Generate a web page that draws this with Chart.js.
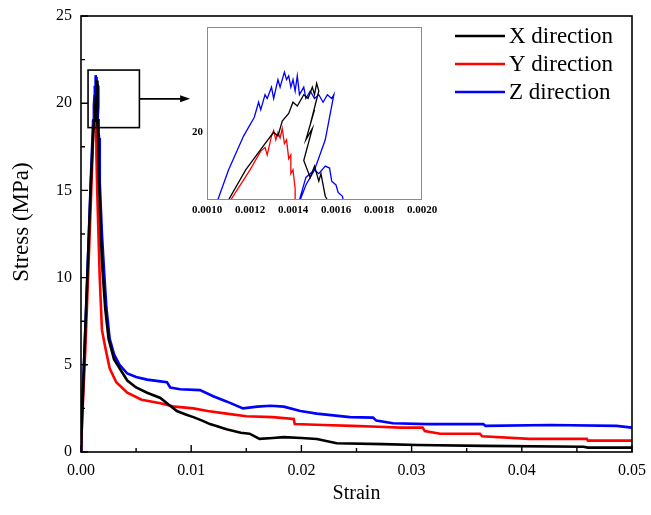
<!DOCTYPE html>
<html>
<head>
<meta charset="utf-8">
<script src="https://cdn.jsdelivr.net/npm/chart.js@4.4.1/dist/chart.umd.min.js"></script>
<style>
  html, body { margin: 0; padding: 0; background: #fff; }
  #wrap { position: relative; width: 651px; height: 515px; }
  #main { position: absolute; left: 0; top: 0; }
  #inset { position: absolute; left: 180px; top: 20px; }
</style>
</head>
<body>
<div id="wrap">
  <canvas id="main" width="651" height="515"></canvas>
  <canvas id="inset" width="262" height="205"></canvas>
</div>
<script>
// ---------------- Data ----------------
const seriesLabels = ['X direction', 'Y direction', 'Z direction'];
const seriesColors = ['#000000', '#ff0000', '#0000ff'];

const xStrain = [0, 0.0001, 0.0003, 0.0006, 0.0009, 0.0011, 0.00118, 0.00127, 0.00131, 0.00133, 0.00135, 0.00138, 0.0014, 0.00142, 0.00145, 0.00147, 0.00149, 0.0015, 0.00151, 0.00152, 0.00148, 0.0015, 0.00146, 0.00149, 0.00145, 0.00148, 0.0015, 0.00152, 0.00153, 0.00155, 0.00157, 0.0016, 0.0017, 0.0018, 0.0019, 0.002, 0.0022, 0.0025, 0.003, 0.0035, 0.0042, 0.005, 0.006, 0.0072, 0.008, 0.0087, 0.0095, 0.0102, 0.011, 0.0117, 0.0125, 0.0132, 0.0145, 0.0153, 0.0162, 0.0174, 0.0184, 0.02, 0.0214, 0.0232, 0.0274, 0.0305, 0.0365, 0.0456, 0.046, 0.05];
const xStress = [0, 2.0, 5.5, 10.5, 15.5, 18.2, 19.0, 19.7, 20.0, 19.9, 20.3, 20.5, 20.8, 20.7, 21.0, 20.9, 21.2, 21.0, 21.3, 21.1, 20.2, 20.6, 19.8, 20.1, 19.25, 18.8, 19.1, 18.7, 18.9, 18.3, 18.1, 16.5, 14.5, 12.5, 11.0, 10.0, 8.2, 6.5, 5.3, 4.8, 4.1, 3.7, 3.4, 3.1, 2.7, 2.35, 2.15, 2.0, 1.8, 1.6, 1.45, 1.3, 1.1, 1.05, 0.75, 0.8, 0.85, 0.8, 0.75, 0.5, 0.45, 0.4, 0.35, 0.3, 0.25, 0.25];

const yStrain = [0, 0.0001, 0.0004, 0.0007, 0.001, 0.00111, 0.0012, 0.00125, 0.00127, 0.00128, 0.0013, 0.00131, 0.00132, 0.00133, 0.00134, 0.00135, 0.00136, 0.00137, 0.00138, 0.00139, 0.00139, 0.0014, 0.00141, 0.00141, 0.00143, 0.00147, 0.0017, 0.0019, 0.0022, 0.0026, 0.0032, 0.0042, 0.0055, 0.0072, 0.0085, 0.0102, 0.0115, 0.0132, 0.015, 0.0174, 0.0193, 0.0194, 0.022, 0.0246, 0.027, 0.029, 0.031, 0.0312, 0.0326, 0.0362, 0.0364, 0.0407, 0.0459, 0.046, 0.05];
const yStress = [0, 1.8, 6.0, 11.0, 16.2, 18.2, 19.0, 19.5, 19.6, 19.4, 19.9, 20.05, 19.8, 20.0, 19.85, 20.1, 19.7, 19.8, 19.3, 19.4, 18.9, 19.0, 18.5, 18.2, 17.0, 15.0, 10.0, 7.0, 6.0, 4.8, 4.0, 3.4, 3.0, 2.8, 2.6, 2.5, 2.35, 2.2, 2.05, 2.0, 1.9, 1.6, 1.55, 1.5, 1.45, 1.4, 1.4, 1.2, 1.05, 1.05, 0.9, 0.75, 0.75, 0.65, 0.65];

const zStrain = [0, 0.00005, 0.0003, 0.0006, 0.0009, 0.00105, 0.0011, 0.00117, 0.00122, 0.00124, 0.00125, 0.00127, 0.00128, 0.0013, 0.00131, 0.00133, 0.00134, 0.00136, 0.00137, 0.00138, 0.00139, 0.0014, 0.00141, 0.00142, 0.00143, 0.00145, 0.00146, 0.00148, 0.0015, 0.00152, 0.00154, 0.00156, 0.00158, 0.00159, 0.00155, 0.0015, 0.00146, 0.00142, 0.00146, 0.0015, 0.00152, 0.00155, 0.00157, 0.00158, 0.0016, 0.00161, 0.00163, 0.00164, 0.0017, 0.0019, 0.0021, 0.0023, 0.0026, 0.003, 0.0035, 0.0042, 0.005, 0.006, 0.0072, 0.0078, 0.0081, 0.009, 0.0108, 0.012, 0.0132, 0.0147, 0.016, 0.0172, 0.0184, 0.0199, 0.0214, 0.0244, 0.0265, 0.0268, 0.0283, 0.0314, 0.0365, 0.0367, 0.0426, 0.0486, 0.05];
const zStress = [0, 2.0, 5.5, 10.5, 15.8, 18.2, 19.0, 19.9, 20.4, 20.8, 20.6, 21.0, 20.9, 21.2, 20.9, 21.4, 21.2, 21.6, 21.4, 21.5, 21.2, 21.4, 21.1, 21.5, 21.0, 21.2, 20.9, 21.1, 20.9, 21.0, 20.8, 21.0, 20.9, 21.0, 19.8, 19.0, 18.6, 18.0, 18.8, 19.0, 18.9, 19.1, 19.05, 18.7, 18.6, 18.4, 18.3, 18.0, 15.5, 12.5, 10.3, 8.3, 6.5, 5.6, 5.0, 4.5, 4.3, 4.15, 4.05, 4.0, 3.7, 3.6, 3.55, 3.2, 2.9, 2.5, 2.6, 2.65, 2.6, 2.35, 2.2, 2.0, 1.97, 1.8, 1.65, 1.6, 1.6, 1.5, 1.55, 1.5, 1.4];

const xTickLabels = ['0.00', '0.01', '0.02', '0.03', '0.04', '0.05'];
const yTickLabels = ['0', '5', '10', '15', '20', '25'];
const insetXTickLabels = ['0.0010', '0.0012', '0.0014', '0.0016', '0.0018', '0.0020'];
const insetYTickLabels = ['20'];
const xTitle = 'Strain';
const yTitle = 'Stress (MPa)';

// zoom box (in data units) and arrow end
const zoomBoxStrain = [0.00064, 0.0053];
const zoomBoxStress = [18.6, 21.9];
const arrowEndStrain = 0.0099;

// ---------------- Helpers ----------------
function pts(xs, ys) { return xs.map((x, i) => ({ x: x, y: ys[i] })); }
const allStrain = [xStrain, yStrain, zStrain];
const allStress = [xStress, yStress, zStress];

function makeDatasets(width) {
  return seriesLabels.map((lab, i) => ({
    label: lab,
    data: pts(allStrain[i], allStress[i]),
    borderColor: seriesColors[i],
    backgroundColor: seriesColors[i],
    borderWidth: width,
    pointRadius: 0,
    tension: 0,
    fill: false
  }));
}

const SERIF = "'Liberation Serif', 'Times New Roman', serif";
function zeroPad(s) { s.paddingLeft = 0; s.paddingRight = 0; s.paddingTop = 0; s.paddingBottom = 0; }

// ---------------- Main chart plugins ----------------
const framePlugin = {
  id: 'frame',
  afterDraw(chart) {
    const { ctx, chartArea: a, scales } = chart;
    ctx.save();
    ctx.strokeStyle = '#000';
    ctx.lineWidth = 1.6;
    ctx.strokeRect(a.left, a.top, a.right - a.left, a.bottom - a.top);
    // inward ticks
    ctx.lineWidth = 1.4;
    const xs = scales.x, ys = scales.y;
    const xv = xs.ticks.map(t => t.value);
    const yv = ys.ticks.map(t => t.value);
    ctx.beginPath();
    xv.forEach((v, i) => {
      const p = xs.getPixelForValue(v);
      ctx.moveTo(p, a.bottom); ctx.lineTo(p, a.bottom - 7);
      if (i < xv.length - 1) {
        const m = xs.getPixelForValue((v + xv[i + 1]) / 2);
        ctx.moveTo(m, a.bottom); ctx.lineTo(m, a.bottom - 4);
      }
    });
    yv.forEach((v, i) => {
      const p = ys.getPixelForValue(v);
      ctx.moveTo(a.left, p); ctx.lineTo(a.left + 7, p);
      if (i < yv.length - 1) {
        const m = ys.getPixelForValue((v + yv[i + 1]) / 2);
        ctx.moveTo(a.left, m); ctx.lineTo(a.left + 4, m);
      }
    });
    ctx.stroke();

    // zoom box + arrow
    const bx0 = xs.getPixelForValue(zoomBoxStrain[0]);
    const bx1 = xs.getPixelForValue(zoomBoxStrain[1]);
    const by0 = ys.getPixelForValue(zoomBoxStress[1]);
    const by1 = ys.getPixelForValue(zoomBoxStress[0]);
    ctx.lineWidth = 1.6;
    ctx.strokeRect(bx0, by0, bx1 - bx0, by1 - by0);
    const ay = (by0 + by1) / 2;
    const ax = xs.getPixelForValue(arrowEndStrain);
    ctx.beginPath();
    ctx.moveTo(bx1, ay); ctx.lineTo(ax - 8, ay);
    ctx.stroke();
    ctx.beginPath();
    ctx.moveTo(ax, ay); ctx.lineTo(ax - 10, ay - 3.5); ctx.lineTo(ax - 10, ay + 3.5); ctx.closePath();
    ctx.fillStyle = '#000';
    ctx.fill();

    // y-axis title
    ctx.save();
    ctx.translate(22, 222);
    ctx.rotate(-Math.PI / 2);
    ctx.font = '23px ' + SERIF;
    ctx.fillStyle = '#000';
    ctx.textAlign = 'center';
    ctx.textBaseline = 'middle';
    ctx.fillText(yTitle, 0, 0);
    ctx.restore();

    // legend
    ctx.font = '23px ' + SERIF;
    ctx.textBaseline = 'middle';
    ctx.textAlign = 'left';
    chart.data.datasets.forEach((ds, i) => {
      const y = 36 + i * 28;
      ctx.strokeStyle = ds.borderColor;
      ctx.lineWidth = 2.5;
      ctx.beginPath(); ctx.moveTo(455, y); ctx.lineTo(505, y); ctx.stroke();
      ctx.fillStyle = '#000';
      ctx.fillText(ds.label, 509, y + 1);
    });
    ctx.restore();
  }
};

new Chart(document.getElementById('main'), {
  type: 'line',
  data: { datasets: makeDatasets(2.6) },
  options: {
    responsive: false,
    animation: false,
    devicePixelRatio: 1,
    layout: { padding: { top: 16, right: 19, left: 0, bottom: 0 } },
    plugins: { legend: { display: false }, tooltip: { enabled: false } },
    scales: {
      x: {
        type: 'linear', min: 0, max: 0.05,
        afterBuildTicks(s) { s.ticks = xTickLabels.map(t => ({ value: parseFloat(t) })); },
        ticks: {
          callback: (v, i) => xTickLabels[i],
          font: { family: SERIF, size: 16 }, color: '#000', padding: 9, maxRotation: 0, autoSkip: false
        },
        grid: { display: false, drawTicks: false },
        border: { display: false },
        title: { display: true, text: xTitle, color: '#000', font: { family: SERIF, size: 20 }, padding: { top: 0, bottom: 9 } },
        afterFit(s) { s.height = 63; zeroPad(s); }
      },
      y: {
        type: 'linear', min: 0, max: 25,
        afterBuildTicks(s) { s.ticks = yTickLabels.map(t => ({ value: parseFloat(t) })); },
        ticks: {
          callback: (v, i) => yTickLabels[i],
          font: { family: SERIF, size: 16 }, color: '#000', padding: 9, autoSkip: false
        },
        grid: { display: false, drawTicks: false },
        border: { display: false },
        title: { display: false },
        afterFit(s) { s.width = 81; zeroPad(s); }
      }
    }
  },
  plugins: [framePlugin]
});

// ---------------- Inset chart ----------------
const insetFrame = {
  id: 'insetFrame',
  afterDraw(chart) {
    const { ctx, chartArea: a } = chart;
    ctx.save();
    ctx.strokeStyle = '#8a8a8a';
    ctx.lineWidth = 1;
    ctx.strokeRect(a.left + 0.5, a.top + 0.5, a.right - a.left - 1, a.bottom - a.top - 1);
    ctx.restore();
  }
};

new Chart(document.getElementById('inset'), {
  type: 'line',
  data: { datasets: makeDatasets(1.3) },
  options: {
    responsive: false,
    animation: false,
    devicePixelRatio: 1,
    layout: { padding: { top: 7, right: 20, left: 0, bottom: 0 } },
    plugins: { legend: { display: false }, tooltip: { enabled: false } },
    scales: {
      x: {
        type: 'linear', min: 0.001, max: 0.002,
        afterBuildTicks(s) { s.ticks = insetXTickLabels.map(t => ({ value: parseFloat(t) })); },
        ticks: {
          callback: (v, i) => insetXTickLabels[i],
          font: { family: SERIF, size: 11, weight: 'bold' }, color: '#000', padding: 4, maxRotation: 0, autoSkip: false
        },
        grid: { display: false, drawTicks: false },
        border: { display: false },
        afterFit(s) { s.height = 25; zeroPad(s); }
      },
      y: {
        type: 'linear', min: 18.2, max: 22.8,
        afterBuildTicks(s) { s.ticks = insetYTickLabels.map(t => ({ value: parseFloat(t) })); },
        ticks: {
          callback: (v, i) => insetYTickLabels[i],
          font: { family: SERIF, size: 11, weight: 'bold' }, color: '#000', padding: 4, autoSkip: false
        },
        grid: { display: false, drawTicks: false },
        border: { display: false },
        afterFit(s) { s.width = 27; zeroPad(s); }
      }
    }
  },
  plugins: [insetFrame]
});
</script>
</body>
</html>
